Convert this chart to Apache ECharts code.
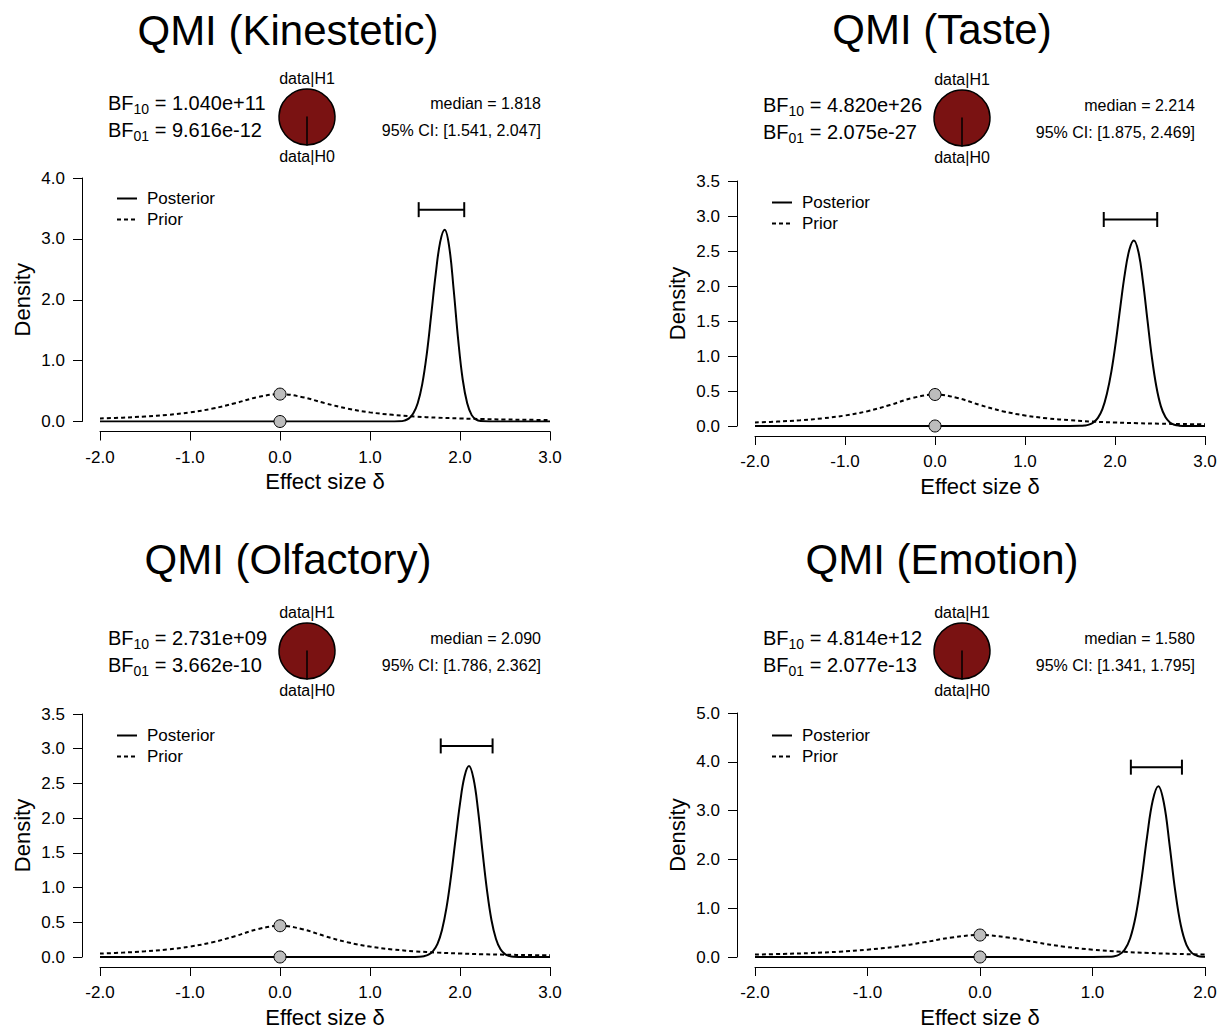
<!DOCTYPE html>
<html>
<head>
<meta charset="utf-8">
<script src="https://cdn.jsdelivr.net/npm/echarts@6.0.0/dist/echarts.min.js"></script>
<style>
  html, body { margin: 0; padding: 0; background: #ffffff; }
  #chart { width: 1228px; height: 1032px; }
</style>
</head>
<body>
<div id="chart"></div>
<script>
// ---- Data: Bayesian one-sample t-test results, one panel per QMI subscale ----
const panelTitles = ['QMI (Kinestetic)', 'QMI (Taste)', 'QMI (Olfactory)', 'QMI (Emotion)'];
const bf10 = [1.040e11, 4.820e26, 2.731e9, 4.814e12];
const bf01 = [9.616e-12, 2.075e-27, 3.662e-10, 2.077e-13];
const medians = [1.818, 2.214, 2.090, 1.580];
const ciLower = [1.541, 1.875, 1.786, 1.341];
const ciUpper = [2.047, 2.469, 2.362, 1.795];
const ciBarHeight = [3.48, 2.95, 3.04, 3.89];

// axis ranges and tick steps
const xMin = [-2, -2, -2, -2];
const xMax = [3, 3, 3, 2];
const xStep = [1, 1, 1, 1];
const yMax = [4, 3.5, 3.5, 5];
const yStep = [1, 0.5, 0.5, 1];

// prior density (same Cauchy prior in every panel)
const priorX = [-2, -1.75, -1.5, -1.25, -1, -0.75, -0.5, -0.25, 0, 0.25, 0.5, 0.75, 1, 1.25, 1.5, 1.75, 2, 2.25, 2.5, 2.75, 3];
const priorY = [0.050, 0.063, 0.082, 0.109, 0.150, 0.212, 0.300, 0.400, 0.450, 0.400, 0.300, 0.212, 0.150, 0.109, 0.082, 0.063, 0.050, 0.040, 0.033, 0.028, 0.024];

// posterior densities
const postX1 = [-2, 1.2, 1.33, 1.38, 1.43, 1.48, 1.53, 1.58, 1.63, 1.68, 1.73, 1.78, 1.83, 1.88, 1.93, 1.98, 2.03, 2.08, 2.13, 2.18, 2.23, 2.33, 3];
const postY1 = [0, 0, 0.004, 0.015, 0.047, 0.13, 0.30, 0.61, 1.10, 1.75, 2.42, 2.95, 3.15, 2.87, 2.16, 1.34, 0.69, 0.30, 0.105, 0.031, 0.0075, 0, 0];

const postX2 = [-2, 1.5, 1.61, 1.66, 1.71, 1.76, 1.81, 1.86, 1.91, 1.96, 2.01, 2.06, 2.11, 2.16, 2.21, 2.26, 2.31, 2.36, 2.41, 2.46, 2.51, 2.56, 2.61, 2.66, 2.71, 2.8, 3];
const postY2 = [0, 0, 0.002, 0.007, 0.020, 0.051, 0.116, 0.24, 0.46, 0.78, 1.21, 1.71, 2.18, 2.52, 2.65, 2.49, 2.07, 1.52, 0.98, 0.56, 0.28, 0.127, 0.050, 0.017, 0.005, 0, 0];

const postX3 = [-2, 1.45, 1.55, 1.60, 1.65, 1.70, 1.75, 1.80, 1.85, 1.90, 1.95, 2.00, 2.05, 2.10, 2.15, 2.20, 2.25, 2.30, 2.35, 2.40, 2.45, 2.50, 2.55, 2.60, 2.70, 3];
const postY3 = [0, 0, 0.004, 0.012, 0.034, 0.086, 0.19, 0.39, 0.71, 1.16, 1.69, 2.21, 2.60, 2.75, 2.57, 2.12, 1.52, 0.96, 0.53, 0.26, 0.11, 0.041, 0.013, 0.004, 0, 0];

const postX4 = [-2, 1.0, 1.135, 1.185, 1.235, 1.285, 1.335, 1.385, 1.435, 1.485, 1.535, 1.585, 1.635, 1.685, 1.735, 1.785, 1.835, 1.885, 1.935, 1.985, 2.0];
const postY4 = [0, 0, 0.003, 0.012, 0.046, 0.146, 0.385, 0.85, 1.58, 2.46, 3.20, 3.50, 3.15, 2.30, 1.36, 0.65, 0.25, 0.079, 0.020, 0.004, 0.003];

// densities at delta = 0 (Savage-Dickey points)
const priorAtZero = [0.450, 0.450, 0.450, 0.450];
const posteriorAtZero = [0, 0, 0, 0];

const posteriorX = [postX1, postX2, postX3, postX4];
const posteriorY = [postY1, postY2, postY3, postY4];

// ---- Layout of the four panels ----
const FONT = "'Liberation Sans', Arial, Helvetica, sans-serif";
const panels = [
  { left: 100, top: 178, bottom: 421.5, title: [288, 30], bf: [108, 103], pie: [307, 117], med: [541, 103], leg: 12 },
  { left: 755, top: 181, bottom: 426,   title: [942, 29], bf: [763, 105], pie: [962, 118], med: [1195, 105], leg: 13 },
  { left: 100, top: 714, bottom: 957,   title: [288, 559], bf: [108, 638], pie: [307, 651], med: [541, 638], leg: 13 },
  { left: 755, top: 713, bottom: 957,   title: [942, 559], bf: [763, 638], pie: [962, 651], med: [1195, 638], leg: 14 }
];

const zip = (xs, ys) => xs.map((x, k) => [x, ys[k]]);

// scientific notation with a two-digit exponent, e.g. 2.731e+09
const sci = v => {
  const [mant, exp] = v.toExponential(3).split('e');
  const sign = exp[0];
  const digits = exp.slice(1).padStart(2, '0');
  return mant + 'e' + sign + digits;
};

const grids = [], xAxes = [], yAxes = [], series = [], legends = [], graphics = [];

panels.forEach((p, i) => {
  grids.push({ left: p.left, top: p.top, width: 450, height: p.bottom - p.top });

  xAxes.push({
    gridIndex: i, type: 'value', min: xMin[i], max: xMax[i], interval: xStep[i], offset: 10,
    axisLine: { show: true, onZero: false, lineStyle: { color: '#000', width: 1 } },
    axisTick: { show: true, length: 9, lineStyle: { color: '#000', width: 1 } },
    axisLabel: { formatter: v => v.toFixed(1), fontSize: 17, color: '#000', fontFamily: FONT, margin: 17 },
    splitLine: { show: false },
    name: 'Effect size δ', nameLocation: 'middle', nameGap: 39,
    nameTextStyle: { fontSize: 22, color: '#000', fontFamily: FONT }
  });

  yAxes.push({
    gridIndex: i, type: 'value', min: 0, max: yMax[i], interval: yStep[i], offset: 18,
    axisLine: { show: true, onZero: false, lineStyle: { color: '#000', width: 1 } },
    axisTick: { show: true, length: 9, lineStyle: { color: '#000', width: 1 } },
    axisLabel: { formatter: v => v.toFixed(1), fontSize: 17, color: '#000', fontFamily: FONT, margin: 17 },
    splitLine: { show: false },
    name: 'Density', nameLocation: 'middle', nameRotate: 90, nameGap: 49,
    nameTextStyle: { fontSize: 22, color: '#000', fontFamily: FONT }
  });

  // prior (dashed) and posterior (solid) densities
  series.push({
    type: 'line', name: 'Prior', xAxisIndex: i, yAxisIndex: i,
    data: zip(priorX, priorY), symbol: 'none', showSymbol: false, smooth: 0.4,
    lineStyle: { color: '#000', width: 2, type: [4, 3] }, itemStyle: { color: '#000' },
    z: 2, silent: true
  });
  series.push({
    type: 'line', name: 'Posterior', xAxisIndex: i, yAxisIndex: i,
    data: zip(posteriorX[i], posteriorY[i]), symbol: 'none', showSymbol: false, smooth: 0.4,
    lineStyle: { color: '#000', width: 2 }, itemStyle: { color: '#000' },
    z: 3, silent: true
  });

  // 95% credible interval bar
  series.push({
    type: 'custom', name: 'CI', xAxisIndex: i, yAxisIndex: i,
    data: [[ciLower[i], ciUpper[i], ciBarHeight[i]]],
    encode: { x: [0, 1], y: 2 },
    renderItem: (params, api) => {
      const a = api.coord([api.value(0), api.value(2)]);
      const b = api.coord([api.value(1), api.value(2)]);
      const h = 7.5;
      const st = { stroke: '#000', lineWidth: 2 };
      return {
        type: 'group', children: [
          { type: 'line', shape: { x1: a[0], y1: a[1], x2: b[0], y2: b[1] }, style: st },
          { type: 'line', shape: { x1: a[0], y1: a[1] - h, x2: a[0], y2: a[1] + h }, style: st },
          { type: 'line', shape: { x1: b[0], y1: b[1] - h, x2: b[0], y2: b[1] + h }, style: st }
        ]
      };
    },
    z: 4, silent: true
  });

  // height of prior and posterior at zero
  series.push({
    type: 'scatter', name: 'zero', xAxisIndex: i, yAxisIndex: i,
    data: [[0, priorAtZero[i]], [0, posteriorAtZero[i]]],
    symbol: 'circle', symbolSize: 12,
    itemStyle: { color: '#bdbdbd', borderColor: '#000', borderWidth: 1, opacity: 1 },
    z: 6, silent: true
  });

  // evidence wheel: data|H1 vs data|H0
  const pH1 = bf10[i] / (1 + bf10[i]);
  const pH0 = 1 / (1 + bf10[i]);
  series.push({
    type: 'pie', name: 'wheel' + i, center: p.pie, radius: 28, startAngle: 270, clockwise: true,
    label: { show: false }, labelLine: { show: false }, silent: true,
    emphasis: { disabled: true },
    data: [
      { name: 'data|H1', value: pH1, itemStyle: { color: '#7a1212' } },
      { name: 'data|H0', value: pH0, itemStyle: { color: '#ffffff' } }
    ],
    itemStyle: { borderColor: '#000', borderWidth: 1.5 }
  });

  legends.push({
    left: p.left + 16, top: p.top + p.leg, orient: 'vertical', padding: 0,
    itemWidth: 20, itemHeight: 14, itemGap: 4, selectedMode: false,
    itemStyle: { opacity: 0, borderWidth: 0 },
    data: ['Posterior', 'Prior'],
    textStyle: { fontSize: 17, color: '#000', fontFamily: FONT, padding: [0, 0, 0, 5] }
  });

  // panel title
  graphics.push({
    type: 'text', x: p.title[0], y: p.title[1], silent: true,
    style: { text: panelTitles[i], fontSize: 42, fontFamily: FONT, fill: '#000', align: 'center', verticalAlign: 'middle' }
  });

  // Bayes factors with subscripts
  const rich = {
    m: { fontSize: 20, fontFamily: FONT, fill: '#000', lineHeight: 26 },
    s: { fontSize: 14, fontFamily: FONT, fill: '#000', lineHeight: 14, verticalAlign: 'bottom' }
  };
  graphics.push({
    type: 'text', x: p.bf[0], y: p.bf[1], silent: true,
    style: { text: '{m|BF}{s|10}{m| = ' + sci(bf10[i]) + '}', rich, align: 'left', verticalAlign: 'middle' }
  });
  graphics.push({
    type: 'text', x: p.bf[0], y: p.bf[1] + 27, silent: true,
    style: { text: '{m|BF}{s|01}{m| = ' + sci(bf01[i]) + '}', rich, align: 'left', verticalAlign: 'middle' }
  });

  // wheel labels
  graphics.push({
    type: 'text', x: p.pie[0], y: p.pie[1] - 39, silent: true,
    style: { text: 'data|H1', fontSize: 16, fontFamily: FONT, fill: '#000', align: 'center', verticalAlign: 'middle' }
  });
  graphics.push({
    type: 'text', x: p.pie[0], y: p.pie[1] + 39, silent: true,
    style: { text: 'data|H0', fontSize: 16, fontFamily: FONT, fill: '#000', align: 'center', verticalAlign: 'middle' }
  });

  // posterior median and credible interval
  graphics.push({
    type: 'text', x: p.med[0], y: p.med[1], silent: true,
    style: { text: 'median = ' + medians[i].toFixed(3), fontSize: 16, fontFamily: FONT, fill: '#000', align: 'right', verticalAlign: 'middle' }
  });
  graphics.push({
    type: 'text', x: p.med[0], y: p.med[1] + 27, silent: true,
    style: {
      text: '95% CI: [' + ciLower[i].toFixed(3) + ', ' + ciUpper[i].toFixed(3) + ']',
      fontSize: 16, fontFamily: FONT, fill: '#000', align: 'right', verticalAlign: 'middle'
    }
  });
});

const chart = echarts.init(document.getElementById('chart'), null, { renderer: 'svg' });
chart.setOption({
  backgroundColor: '#ffffff',
  animation: false,
  textStyle: { fontFamily: FONT },
  grid: grids,
  xAxis: xAxes,
  yAxis: yAxes,
  legend: legends,
  series: series,
  graphic: graphics
});
</script>
</body>
</html>
